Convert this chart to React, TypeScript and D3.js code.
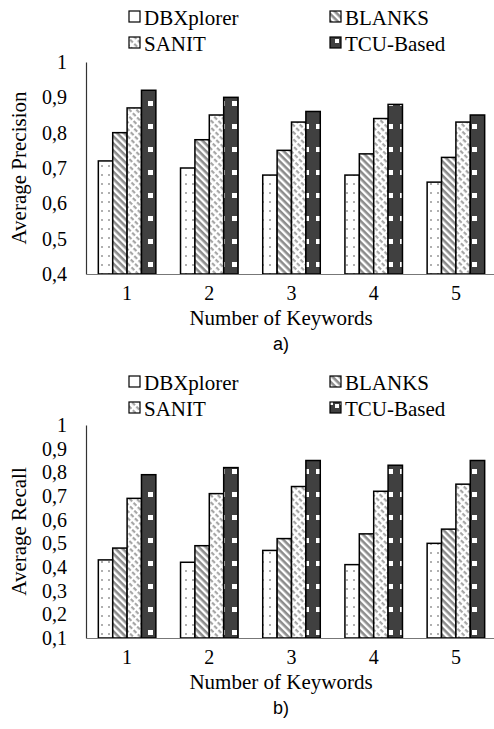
import { useEffect, useRef } from "react";
import * as d3 from "d3";

// data
const keywords = ["1", "2", "3", "4", "5"];
const seriesNames = ["DBXplorer", "BLANKS", "SANIT", "TCU-Based"];

const precisionDBX = [0.72, 0.7, 0.68, 0.68, 0.66];
const precisionBLANKS = [0.8, 0.78, 0.75, 0.74, 0.73];
const precisionSANIT = [0.87, 0.85, 0.83, 0.84, 0.83];
const precisionTCU = [0.92, 0.9, 0.86, 0.88, 0.85];

const recallDBX = [0.43, 0.42, 0.47, 0.41, 0.5];
const recallBLANKS = [0.48, 0.49, 0.52, 0.54, 0.56];
const recallSANIT = [0.69, 0.71, 0.74, 0.72, 0.75];
const recallTCU = [0.79, 0.82, 0.85, 0.83, 0.85];

const precisionTicks = [0.4, 0.5, 0.6, 0.7, 0.8, 0.9, 1];
const recallTicks = [0.1, 0.2, 0.3, 0.4, 0.5, 0.6, 0.7, 0.8, 0.9, 1];

const fills = ["url(#pDots)", "url(#pStripe)", "url(#pDash)", "url(#pSquares)"];

const SERIF = "'Liberation Serif', 'Times New Roman', serif";

const App = () => {
  const svgRef = useRef<SVGSVGElement>(null);

  useEffect(() => {
    const svg = d3.select(svgRef.current);
    svg.selectAll("*").remove();

    ////////////////// patterns //////////////////
    const defs = svg.append("defs");

    const dots = defs.append("pattern").attr("id", "pDots")
      .attr("patternUnits", "userSpaceOnUse").attr("width", 7).attr("height", 9);
    dots.append("rect").attr("width", 7).attr("height", 9).attr("fill", "#fff");
    dots.append("rect").attr("x", 3).attr("y", 3).attr("width", 2).attr("height", 2).attr("fill", "#b0b0b0");

    const stripe = defs.append("pattern").attr("id", "pStripe")
      .attr("patternUnits", "userSpaceOnUse").attr("width", 5).attr("height", 5)
      .attr("patternTransform", "rotate(45)");
    stripe.append("rect").attr("width", 5).attr("height", 5).attr("fill", "#fff");
    stripe.append("rect").attr("width", 5).attr("height", 2.6).attr("fill", "#8c8c8c");

    // dashed diagonals, lighter
    const dash = defs.append("pattern").attr("id", "pDash")
      .attr("patternUnits", "userSpaceOnUse").attr("width", 6).attr("height", 5)
      .attr("patternTransform", "rotate(45)");
    dash.append("rect").attr("width", 6).attr("height", 5).attr("fill", "#fff");
    dash.append("rect").attr("width", 4).attr("height", 2.2).attr("fill", "#a6a6a6");

    const sq = defs.append("pattern").attr("id", "pSquares")
      .attr("patternUnits", "userSpaceOnUse").attr("width", 12).attr("height", 23);
    sq.append("rect").attr("width", 12).attr("height", 23).attr("fill", "#404040");
    sq.append("rect").attr("x", 4).attr("y", 9).attr("width", 5).attr("height", 5).attr("fill", "#fff");

    ////////////////// one panel //////////////////
    const drawPanel = (
      top: number,
      y0: number,
      y1: number,
      domain: [number, number],
      ticks: number[],
      values: number[][],
      yTitle: string,
      tag: string
    ) => {
      const g = svg.append("g");

      // legend
      const legendX = [129, 330];
      seriesNames.forEach((name, i) => {
        const lx = legendX[i % 2];
        const ly = top + (i < 2 ? 0 : 26);
        g.append("rect").attr("x", lx).attr("y", ly + 11).attr("width", 11).attr("height", 11)
          .attr("fill", i === 0 ? "#fff" : fills[i]).attr("stroke", "#000").attr("stroke-width", 1.2);
        if (i === 3) {
          g.append("rect").attr("x", lx + 5).attr("y", ly + 13).attr("width", 4).attr("height", 4).attr("fill", "#fff");
        }
        g.append("text").attr("x", lx + 15).attr("y", ly + 25)
          .style("font-family", SERIF).style("font-size", "21px").text(name);
      });

      const x = d3.scaleBand().domain(keywords).range([86, 497]).paddingInner(0.3).paddingOuter(0.15);
      const xs = d3.scaleBand().domain(seriesNames).range([0, x.bandwidth()]);
      const y = d3.scaleLinear().domain(domain).range([y0, y1]);

      // y axis
      const ya = g.append("g").attr("transform", "translate(86,0)")
        .call(d3.axisLeft(y).tickValues(ticks).tickSize(0).tickPadding(19)
          .tickFormat((d) => d3.format("")(+d).replace(".", ",")));
      ya.select(".domain").attr("stroke", "#333").attr("stroke-width", 1.2);
      ya.selectAll("text").style("font-family", SERIF).style("font-size", "20px").attr("fill", "#000");

      // bars
      seriesNames.forEach((name, si) => {
        g.selectAll(null).data(values[si]).enter().append("rect")
          .attr("x", (_, i) => (x(keywords[i]) as number) + (xs(name) as number))
          .attr("y", (d) => y(d))
          .attr("width", xs.bandwidth())
          .attr("height", (d) => y0 - y(d))
          .attr("fill", fills[si])
          .attr("stroke", "#000")
          .attr("stroke-width", 1.5);
      });

      // x axis
      const xa = g.append("g").attr("transform", `translate(0,${y0})`)
        .call(d3.axisBottom(x).tickSize(0).tickPadding(12));
      xa.select(".domain").attr("stroke", "#777").attr("stroke-width", 1.2);
      xa.selectAll("text").style("font-family", SERIF).style("font-size", "20px").attr("fill", "#000");

      g.append("text").attr("x", 281).attr("y", y0 + 51).attr("text-anchor", "middle")
        .style("font-family", SERIF).style("font-size", "21px").text("Number of Keywords");

      g.append("text").attr("transform", `translate(26,${(y0 + y1) / 2}) rotate(-90)`)
        .attr("text-anchor", "middle")
        .style("font-family", SERIF).style("font-size", "21px").text(yTitle);

      g.append("text").attr("x", 281).attr("y", y0 + 76).attr("text-anchor", "middle")
        .style("font-family", "'Liberation Sans Narrow', 'Liberation Sans', Arial, sans-serif")
        .style("font-size", "18px").text(tag);
    };

    drawPanel(0, 274, 62, [0.4, 1], precisionTicks,
      [precisionDBX, precisionBLANKS, precisionSANIT, precisionTCU], "Average  Precision", "a)");
    drawPanel(365, 638, 425, [0.1, 1], recallTicks,
      [recallDBX, recallBLANKS, recallSANIT, recallTCU], "Average Recall", "b)");
  }, []);

  return (
    <div>
      <style>{"body{margin:0}"}</style>
      <svg ref={svgRef} width={494} height={729} style={{ display: "block", background: "#fff" }}></svg>
    </div>
  );
};

export default App;
